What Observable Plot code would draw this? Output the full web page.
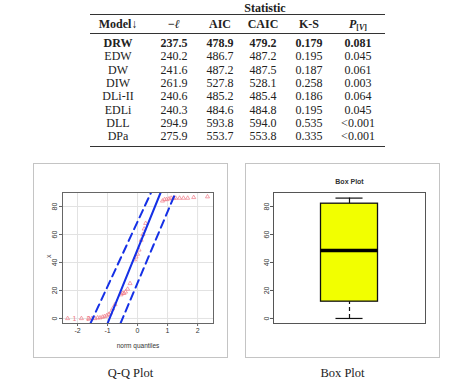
<!DOCTYPE html>
<html><head><meta charset="utf-8">
<script src="https://cdn.jsdelivr.net/npm/d3@7"></script>
<script src="https://cdn.jsdelivr.net/npm/@observablehq/plot@0.6"></script>
<style>
body{margin:0;background:#fff;}
#root{position:relative;width:474px;height:382px;overflow:hidden;font-family:"Liberation Serif","DejaVu Serif",serif;color:#222;}
.cell{position:absolute;text-align:center;white-space:nowrap;font-size:12px;line-height:14px;height:14px;}
.rule{position:absolute;left:90px;width:295px;background:#333;}
.panel{position:absolute;width:193px;height:193px;border:1.5px solid #c4c4c4;background:#fff;}
.panel svg{position:absolute;left:0;top:0;}
.cap{position:absolute;width:195px;text-align:center;font-size:12.5px;line-height:14px;}
</style>
</head><body><div id="root"></div>
<script>
// ---------- table data ----------
const models   = ["DRW","EDW","DW","DIW","DLi-II","EDLi","DLL","DPa"];
const negLogLik = ["237.5","240.2","241.6","261.9","240.6","240.3","294.9","275.9"];
const aicVals  = ["478.9","486.7","487.2","527.8","485.2","484.6","593.8","553.7"];
const caicVals = ["479.2","487.2","487.5","528.1","485.4","484.8","594.0","553.8"];
const ksVals   = ["0.179","0.195","0.187","0.258","0.186","0.195","0.535","0.335"];
const pVals    = ["0.081","0.045","0.061","0.003","0.064","0.045","<0.001","<0.001"];
const bestModel = "DRW";

// ---------- Q-Q plot data ----------
const qqTheoretical = [-2.33,-1.87,-1.63,-1.52,-1.42,-1.33,-1.25,-1.17,-1.10,-1.03,-0.96,-0.90,-0.83,-0.75,
  -0.55,-0.50,-0.45,-0.40,-0.33,-0.25,-0.10,-0.05,0.00,0.05,0.12,0.18,0.22,0.27,
  0.83,0.90,0.97,1.05,1.12,1.20,1.27,1.40,1.53,1.67,1.87,2.33];
const qqSample = [0,0,0,0,0,0.5,0.5,1,1.5,2,3,4,7,10,
  17,18,18,19,21,25,42,44,46,49,56,60,64,68,
  84,85,85,85.5,86,86,86,86,86,86,86.5,87];
const qqLabels = [{x:-2.33,y:0,t:"1"},{x:-1.87,y:0,t:"2"}];
// reference line and confidence envelope (data units)
const refLine  = [{x:-1.0,y:-3.6},{x:0.77,y:90}];
const envLower = [{x:-1.57,y:-3.6},{x:0.45,y:90}];
const envUpper = [{x:-0.57,y:-3.6},{x:1.27,y:90}];
const qqXTicks = [-2,-1,0,1,2];
const yTicks = [0,20,40,60,80];

// ---------- box plot data ----------
const boxStats = {min:0, q1:12, median:48.5, q3:82, max:86};

const root = document.getElementById("root");

// ---------- table ----------
const colX = [118,174,220,263,309,358];
function cell(html, cx, cy, bold){
  const d = document.createElement("div");
  d.className = "cell";
  d.style.left = (cx-40)+"px"; d.style.width = "80px";
  d.style.top = (cy-7)+"px";
  if (bold) d.style.fontWeight = "bold";
  d.innerHTML = html;
  root.appendChild(d);
}
function rule(y, h){
  const d = document.createElement("div");
  d.className = "rule"; d.style.top = y+"px"; d.style.height = h+"px";
  root.appendChild(d);
}
cell("Statistic", 265, 8, true);
rule(13.5, 1.5);
const headers = ["Model&#8595;","&minus;<i>&#8467;</i>","AIC","CAIC","K-S","<i>P</i><sub style='font-size:8px;vertical-align:-2px'>[<i>V</i>]</sub>"];
headers.forEach((h,i)=>cell(h, colX[i], 24, true));
rule(32.5, 1);
const cols = [models, negLogLik, aicVals, caicVals, ksVals, pVals];
models.forEach((m,r)=>{
  const cy = 43 + r*13.3;
  cols.forEach((c,i)=>cell(c[r].replace("<","&lt;"), colX[i], cy, m===bestModel));
});
rule(145.5, 1.5);

// ---------- panels ----------
function panel(left, top){
  const d = document.createElement("div");
  d.className = "panel"; d.style.left = left+"px"; d.style.top = top+"px";
  root.appendChild(d); return d;
}
const axisStyle = {fontFamily:"'Liberation Sans', Arial, sans-serif", fontSize:"7px", background:"transparent", color:"#333"};
const blue = "#1530e6";
const red = "#ef7a86";
const fmt = d => String(d);

const qqPanel = panel(33, 163);
const qq = Plot.plot({
  width: 193, height: 193,
  marginLeft: 28, marginRight: 14, marginTop: 28, marginBottom: 34,
  x: {domain: [-2.5, 2.53]},
  y: {domain: [-3.6, 90]},
  style: axisStyle,
  marks: [
    Plot.gridX(qqXTicks, {stroke:"#e2e2e2", strokeOpacity:1}),
    Plot.gridY(yTicks, {stroke:"#e2e2e2", strokeOpacity:1}),
    Plot.dot(qqTheoretical.map((x,i)=>({x, y: qqSample[i]})), {x:"x", y:"y", symbol:"triangle", r:1.5, stroke:red, strokeWidth:0.7, fill:"none"}),
    Plot.text(qqLabels, {x:"x", y:"y", text:"t", dx:5, textAnchor:"start", fill:red, fontSize:7}),
    Plot.line(envLower, {x:"x", y:"y", stroke:blue, strokeWidth:2, strokeDasharray:"8,5", clip:true}),
    Plot.line(envUpper, {x:"x", y:"y", stroke:blue, strokeWidth:2, strokeDasharray:"8,5", clip:true}),
    Plot.line(refLine, {x:"x", y:"y", stroke:blue, strokeWidth:2, clip:true}),
    Plot.frame({stroke:"#666"}),
    Plot.axisX({ticks: qqXTicks, tickFormat: fmt, tickSize:3, tickPadding:2, label:null, stroke:"#666"}),
    Plot.axisY({ticks: yTicks, tickFormat: fmt, tickSize:3, tickPadding:3, tickRotate:-90, label:null, stroke:"#666"}),
    Plot.text(["norm quantiles"], {text:d=>d, frameAnchor:"bottom", dy:24, fontSize:6.5}),
    Plot.text(["x"], {text:d=>d, frameAnchor:"left", dx:-14, rotate:-90, fontSize:7})
  ]
});
qqPanel.appendChild(qq);

const boxPanel = panel(245, 163);
const boxHalf = 0.1875, capHalf = 0.089;
const bx = Plot.plot({
  width: 193, height: 193,
  marginLeft: 27, marginRight: 14, marginTop: 28, marginBottom: 34,
  x: {domain: [0.5, 1.5], axis: null},
  y: {domain: [-3.6, 90]},
  style: axisStyle,
  marks: [
    Plot.ruleX([boxStats], {x:()=>1, y1:"min", y2:"q1", stroke:"#111", strokeWidth:1.2, strokeDasharray:"4,3"}),
    Plot.ruleX([boxStats], {x:()=>1, y1:"q3", y2:"max", stroke:"#111", strokeWidth:1.2}),
    Plot.ruleY([boxStats.min, boxStats.max], {x1:1-capHalf, x2:1+capHalf, stroke:"#111", strokeWidth:1.2}),
    Plot.rect([boxStats], {x1:()=>1-boxHalf, x2:()=>1+boxHalf, y1:"q1", y2:"q3", fill:"#f2ff00", stroke:"#111", strokeWidth:1.3}),
    Plot.ruleY([boxStats.median], {x1:1-boxHalf, x2:1+boxHalf, stroke:"#000", strokeWidth:3.5}),
    Plot.frame({stroke:"#555"}),
    Plot.axisY({ticks: yTicks, tickFormat: fmt, tickSize:3, tickPadding:2, tickRotate:-90, label:null, stroke:"#555"}),
    Plot.text(["Box Plot"], {text:d=>d, frameAnchor:"top", dy:-13, fontSize:7, fontWeight:"bold"})
  ]
});
boxPanel.appendChild(bx);

function caption(t, left){
  const d = document.createElement("div");
  d.className = "cap"; d.style.left = left+"px"; d.style.top = "366px";
  d.textContent = t; root.appendChild(d);
}
caption("Q-Q Plot", 33);
caption("Box Plot", 245);
</script>
</body></html>
